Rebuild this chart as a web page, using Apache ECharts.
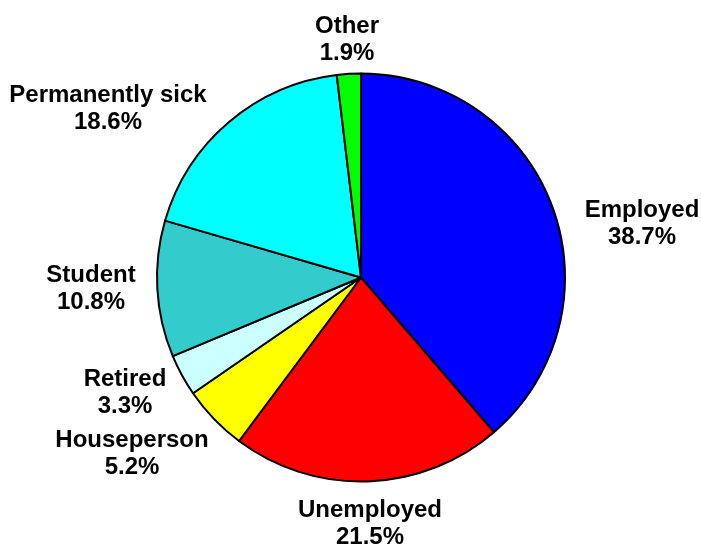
<!DOCTYPE html>
<html>
<head>
<meta charset="utf-8">
<script src="https://cdn.jsdelivr.net/npm/echarts@6/dist/echarts.min.js"></script>
<style>
  html, body { margin: 0; padding: 0; background: #fff; }
  #chart { width: 701px; height: 546px; }
</style>
</head>
<body>
<div id="chart"></div>
<script>
// Economic activity shares (percent), clockwise from 12 o'clock
const categories = ['Employed', 'Unemployed', 'Houseperson', 'Retired', 'Student', 'Permanently sick', 'Other'];
const shares = [38.7, 21.5, 5.2, 3.3, 10.8, 18.6, 1.9];
const sliceColors = ['#0000FF', '#FF0000', '#FFFF00', '#CCFFFF', '#33CCCC', '#00FFFF', '#00FF00'];

// Label block centres (pixels) for each category
const labelCentres = {
  'Employed': [642, 224],
  'Unemployed': [370, 524],
  'Houseperson': [132, 454],
  'Retired': [125, 393],
  'Student': [91, 289],
  'Permanently sick': [108, 109],
  'Other': [347, 40]
};

const chart = echarts.init(document.getElementById('chart'), null, { renderer: 'canvas' });

chart.setOption({
  animation: false,
  backgroundColor: '#ffffff',
  series: [{
    type: 'pie',
    center: [361, 277.5],
    radius: 204,
    startAngle: 90,
    clockwise: true,
    avoidLabelOverlap: false,
    data: categories.map((name, i) => ({
      name: name,
      value: shares[i],
      itemStyle: { color: sliceColors[i] }
    })),
    itemStyle: { borderColor: '#000000', borderWidth: 2 },
    label: {
      show: true,
      position: 'outside',
      formatter: '{b}\n{c}%',
      fontFamily: 'Liberation Sans, Arial, sans-serif',
      fontWeight: 'bold',
      fontSize: 24,
      lineHeight: 27,
      color: '#000000',
      align: 'center'
    },
    labelLine: { show: false },
    labelLayout: function (params) {
      const name = categories[params.dataIndex];
      const c = labelCentres[name];
      return { x: c[0], y: c[1], align: 'center', verticalAlign: 'middle' };
    },
    emphasis: { disabled: true }
  }]
});
</script>
</body>
</html>
